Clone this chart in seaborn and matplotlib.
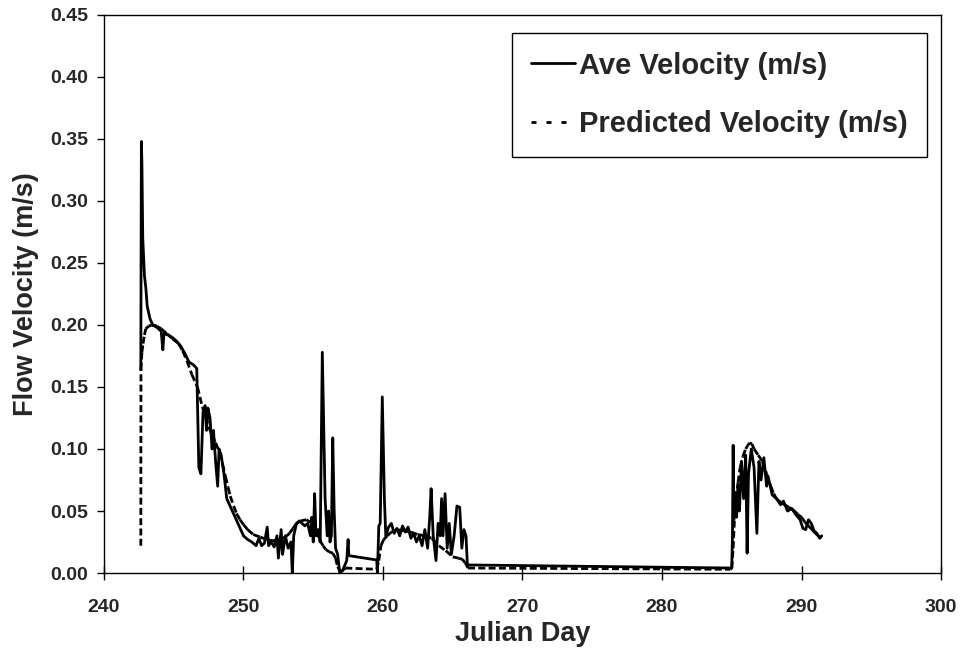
import numpy as np
import pandas as pd
import matplotlib
matplotlib.use("Agg")
import matplotlib.pyplot as plt
from matplotlib.lines import Line2D
import seaborn as sns

# Measured average flow velocity (Julian day, m/s)
ave_day = [242.64, 242.68, 242.72, 242.78, 242.90, 243.00, 243.10, 243.30, 243.50, 243.80,
           244.10, 244.22, 244.30, 244.60, 244.90, 245.20, 245.50, 245.80, 246.10, 246.40,
           246.65, 246.80, 246.95, 247.10, 247.25, 247.35, 247.45, 247.60, 247.75, 247.85,
           248.00, 248.15, 248.25, 248.40, 248.60, 248.80, 249.00, 249.20, 249.40, 249.60,
           249.80, 250.00, 250.30, 250.60, 250.90, 251.10, 251.30, 251.50, 251.70, 251.80,
           252.00, 252.20, 252.40, 252.50, 252.70, 252.80, 253.00, 253.20, 253.40, 253.50,
           253.60, 253.80, 254.00, 254.20, 254.40, 254.60, 254.80, 254.90, 255.00, 255.10,
           255.20, 255.35, 255.50, 255.65, 255.75, 255.85, 256.00, 256.10, 256.20, 256.30,
           256.40, 256.50, 256.60, 256.75, 256.90, 257.10, 257.40, 257.50, 257.55, 259.55,
           259.60, 259.70, 259.80, 259.95, 260.10, 260.20, 260.40, 260.60, 260.80, 261.00,
           261.20, 261.40, 261.60, 261.80, 262.00, 262.20, 262.40, 262.60, 262.80, 263.00,
           263.20, 263.35, 263.45, 263.60, 263.80, 263.95, 264.10, 264.20, 264.30, 264.45,
           264.60, 264.75, 264.90, 265.10, 265.30, 265.50, 265.65, 265.80, 265.95, 266.05,
           284.95, 285.00, 285.05, 285.10, 285.15, 285.25, 285.35, 285.45, 285.55, 285.70,
           285.85, 286.00, 286.10, 286.20, 286.40, 286.60, 286.80, 286.95, 287.10, 287.30,
           287.50, 287.60, 287.90, 288.20, 288.50, 288.70, 289.00, 289.30, 289.60, 289.90,
           290.10, 290.30, 290.50, 290.70, 290.90, 291.10, 291.30, 291.45]
ave_vel = [0.164, 0.348, 0.330, 0.270, 0.240, 0.230, 0.215, 0.205, 0.200, 0.198,
           0.195, 0.180, 0.193, 0.192, 0.190, 0.187, 0.183, 0.177, 0.170, 0.168,
           0.165, 0.085, 0.080, 0.130, 0.135, 0.115, 0.133, 0.125, 0.100, 0.115,
           0.090, 0.070, 0.100, 0.095, 0.080, 0.060, 0.055, 0.050, 0.045, 0.040,
           0.035, 0.030, 0.027, 0.025, 0.022, 0.028, 0.022, 0.024, 0.037, 0.022,
           0.025, 0.021, 0.030, 0.012, 0.035, 0.015, 0.030, 0.020, 0.025, 0.000,
           0.030, 0.040, 0.042, 0.040, 0.038, 0.040, 0.030, 0.045, 0.025, 0.064,
           0.030, 0.035, 0.025, 0.178, 0.120, 0.060, 0.030, 0.050, 0.025, 0.030,
           0.109, 0.050, 0.020, 0.015, 0.000, 0.002, 0.010, 0.027, 0.014, 0.0105,
           0.000, 0.038, 0.040, 0.142, 0.060, 0.030, 0.037, 0.040, 0.032, 0.036,
           0.030, 0.038, 0.033, 0.037, 0.028, 0.032, 0.025, 0.030, 0.022, 0.035,
           0.020, 0.045, 0.068, 0.030, 0.010, 0.040, 0.030, 0.060, 0.030, 0.064,
           0.020, 0.040, 0.015, 0.030, 0.054, 0.053, 0.020, 0.035, 0.030, 0.0065,
           0.004, 0.004, 0.030, 0.103, 0.043, 0.065, 0.045, 0.070, 0.050, 0.090,
           0.060, 0.095, 0.016, 0.080, 0.100, 0.085, 0.032, 0.090, 0.075, 0.093,
           0.070, 0.078, 0.063, 0.060, 0.055, 0.058, 0.050, 0.052, 0.047, 0.043,
           0.036, 0.035, 0.043, 0.040, 0.034, 0.032, 0.028, 0.030]

# Model-predicted flow velocity (Julian day, m/s)
pred_day = [242.64, 242.65, 242.72, 242.80, 242.90, 243.00, 243.20, 243.40, 243.60, 243.80,
            244.10, 244.50, 244.90, 245.35, 245.65, 245.95, 246.30, 246.70, 247.05, 247.30,
            247.50, 247.75, 248.00, 248.30, 248.50, 248.70, 248.90, 249.05, 249.30, 249.50,
            249.75, 250.00, 250.30, 250.70, 251.20, 251.65, 252.10, 252.60, 253.00, 253.30,
            253.55, 253.80, 254.10, 254.50, 254.80, 255.00, 255.20, 255.45, 255.70, 255.90,
            256.15, 256.40, 256.60, 256.75, 256.90, 257.00, 257.30, 259.55, 259.70, 259.85,
            260.05, 260.30, 260.60, 261.00, 261.50, 262.00, 262.50, 263.00, 263.50, 264.00,
            264.50, 265.00, 265.40, 265.70, 265.90, 266.10, 284.90, 285.00, 285.10, 285.20,
            285.30, 285.45, 285.60, 285.80, 286.00, 286.15, 286.30, 286.45, 286.60, 286.90,
            287.20, 287.50, 287.80, 288.00, 288.20, 288.50, 288.80, 289.10, 289.50, 289.75,
            290.00, 290.25, 290.50, 290.75, 291.00, 291.20, 291.40]
pred_vel = [0.022, 0.164, 0.178, 0.185, 0.192, 0.197, 0.199, 0.200, 0.200, 0.199,
            0.197, 0.193, 0.189, 0.185, 0.179, 0.171, 0.160, 0.150, 0.134, 0.126,
            0.118, 0.111, 0.105, 0.097, 0.088, 0.078, 0.069, 0.062, 0.054, 0.048,
            0.043, 0.039, 0.035, 0.031, 0.029, 0.027, 0.026, 0.027, 0.029, 0.032,
            0.036, 0.040, 0.042, 0.043, 0.041, 0.039, 0.034, 0.027, 0.022, 0.019,
            0.017, 0.016, 0.012, 0.005, 0.002, 0.001, 0.004, 0.003, 0.010, 0.022,
            0.027, 0.030, 0.033, 0.035, 0.034, 0.033, 0.031, 0.030, 0.028, 0.022,
            0.018, 0.013, 0.012, 0.011, 0.008, 0.004, 0.003, 0.004, 0.020, 0.045,
            0.060, 0.073, 0.085, 0.094, 0.100, 0.103, 0.105, 0.104, 0.100, 0.095,
            0.090, 0.080, 0.070, 0.064, 0.060, 0.057, 0.055, 0.053, 0.050, 0.047,
            0.045, 0.041, 0.038, 0.035, 0.032, 0.030, 0.028]

x_ticks = [240, 250, 260, 270, 280, 290, 300]
y_ticks = [0.00, 0.05, 0.10, 0.15, 0.20, 0.25, 0.30, 0.35, 0.40, 0.45]

ave = pd.DataFrame({"day": ave_day, "vel": ave_vel})

# The predicted series is drawn segment by segment so the dash pattern
# restarts on every step between samples.
seg_rows = []
for i in range(len(pred_day) - 1):
    seg_rows.append((pred_day[i], pred_vel[i], i))
    seg_rows.append((pred_day[i + 1], pred_vel[i + 1], i))
pred_segments = pd.DataFrame(seg_rows, columns=["day", "vel", "seg"])

sns.set_style("white")
plt.rcParams["font.family"] = ["Liberation Sans", "DejaVu Sans"]
plt.rcParams["font.weight"] = "bold"

fig = plt.figure(figsize=(9.61, 6.49), dpi=100)
ax = fig.add_axes([0.1082, 0.1171, 0.8710, 0.8598])

dash_style = (0, (2.5, 1.2))
line_w = 2.0

sns.lineplot(data=pred_segments, x="day", y="vel", units="seg", estimator=None,
             sort=False, ax=ax, color="black", lw=line_w, linestyle=dash_style,
             legend=False)
sns.lineplot(data=ave, x="day", y="vel", ax=ax, sort=False, estimator=None,
             color="black", lw=line_w, legend=False)

ax.set_xlim(240, 300)
ax.set_ylim(0, 0.45)
ax.set_xticks(x_ticks)
ax.set_yticks(y_ticks)
ax.set_xticklabels([str(t) for t in x_ticks], fontsize=14, fontweight="bold")
ax.set_yticklabels([f"{t:.2f}" for t in y_ticks], fontsize=14, fontweight="bold")
ax.tick_params(axis="y", direction="out", length=5, width=1, pad=6.5, color="black", left=True)
ax.tick_params(axis="x", direction="inout", length=9.4, width=1, pad=14, color="black", bottom=True)

for s in ax.spines.values():
    s.set_color("black")
    s.set_linewidth(1.0)

ax.set_xlabel("Julian Day", fontsize=19.5, fontweight="bold", labelpad=3.5)
ax.set_ylabel("Flow Velocity (m/s)", fontsize=19.5, fontweight="bold", labelpad=8)

handles = [Line2D([], [], color="black", lw=line_w),
           Line2D([], [], color="black", lw=line_w, linestyle=(0, (1.8, 3.6)))]
labels = ["Ave Velocity (m/s)", "Predicted Velocity (m/s)"]
leg = ax.legend(handles, labels, loc="upper right", bbox_to_anchor=(0.9833, 0.9683),
                fontsize=21, frameon=True, fancybox=False, edgecolor="black",
                framealpha=1, handlelength=1.5, labelspacing=1.05, borderpad=0.65,
                handletextpad=0.15, borderaxespad=0)
leg.get_frame().set_linewidth(1.0)
for t in leg.get_texts():
    t.set_fontweight("bold")

fig.savefig("out.png", dpi=100)
